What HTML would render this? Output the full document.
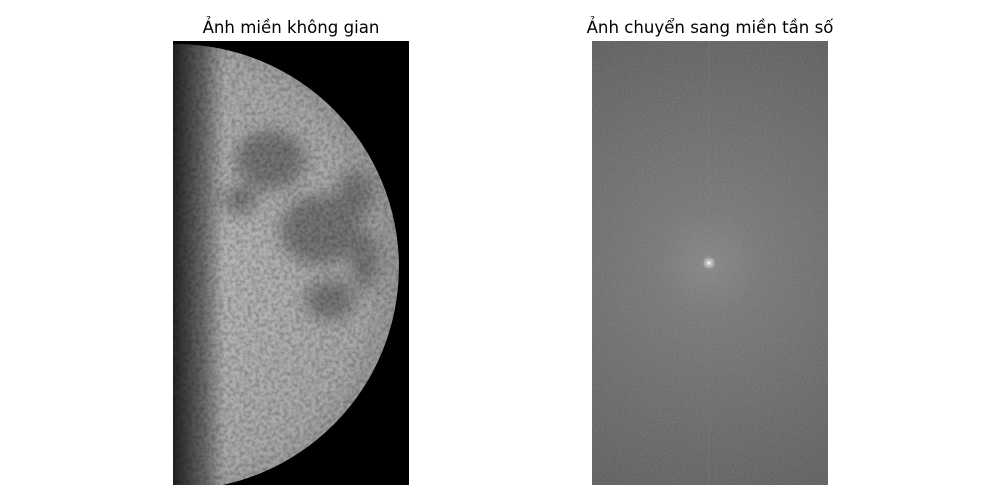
<!DOCTYPE html>
<html><head><meta charset="utf-8"><style>
body{margin:0;background:#fff;width:1000px;height:500px;overflow:hidden;font-family:"DejaVu Sans","Liberation Sans",sans-serif}
</style></head><body>
<svg width="1000" height="500" viewBox="0 0 1000 500">
<defs>
<clipPath id="lc"><rect x="173" y="41" width="236" height="444"/></clipPath>
<clipPath id="mc"><circle cx="176" cy="267" r="223"/></clipPath>
<radialGradient id="moonG" cx="0.45" cy="0.5" r="0.6">
<stop offset="0" stop-color="#bcbcbc"/><stop offset="0.8" stop-color="#a8a8a8"/><stop offset="1" stop-color="#8a8a8a"/>
</radialGradient>
<linearGradient id="shade" x1="173" x2="409" y1="0" y2="0" gradientUnits="userSpaceOnUse">
<stop offset="0" stop-color="#000" stop-opacity="0.8"/><stop offset="0.13" stop-color="#000" stop-opacity="0.4"/><stop offset="0.22" stop-color="#000" stop-opacity="0"/>
</linearGradient>
<filter id="noise" x="0" y="0" width="100%" height="100%">
<feTurbulence type="fractalNoise" baseFrequency="0.25" numOctaves="3" seed="4" result="t"/>
<feColorMatrix in="t" type="matrix" values="0 0 0 0 0  0 0 0 0 0  0 0 0 0 0  -1.6 0 0 0 1.05" result="d"/>
<feComposite in="d" in2="SourceGraphic" operator="in"/>
</filter>
<filter id="fnoise" x="0" y="0" width="100%" height="100%">
<feTurbulence type="fractalNoise" baseFrequency="0.8" numOctaves="1" seed="2"/>
<feColorMatrix type="matrix" values="0 0 0 0 1  0 0 0 0 1  0 0 0 0 1  0 0 0 0.45 -0.1"/>
</filter>
<filter id="blur"><feGaussianBlur stdDeviation="8"/></filter>
<filter id="blur2"><feGaussianBlur stdDeviation="2"/></filter>
<radialGradient id="fftG" cx="709" cy="263" r="260" gradientUnits="userSpaceOnUse">
<stop offset="0" stop-color="#a0a0a0"/><stop offset="0.03" stop-color="#808080"/><stop offset="0.2" stop-color="#747474"/><stop offset="0.6" stop-color="#676767"/><stop offset="1" stop-color="#5a5a5a"/>
</radialGradient>
</defs>
<text x="291" y="33" text-anchor="middle" font-size="16.6" fill="#000">Ảnh miền không gian</text>
<text x="710" y="33" text-anchor="middle" font-size="16.6" fill="#000">Ảnh chuyển sang miền tần số</text>
<g clip-path="url(#lc)">
<rect x="173" y="41" width="236" height="444" fill="#000"/>
<g clip-path="url(#mc)">
<circle cx="176" cy="267" r="223" fill="url(#moonG)"/>
<g filter="url(#blur)" fill="#666" opacity="0.8">
<ellipse cx="270" cy="160" rx="35" ry="30"/>
<ellipse cx="320" cy="230" rx="40" ry="35"/>
<ellipse cx="355" cy="195" rx="18" ry="25"/>
<ellipse cx="330" cy="300" rx="25" ry="20"/>
<ellipse cx="240" cy="200" rx="18" ry="14"/>
<ellipse cx="365" cy="260" rx="14" ry="30"/>
</g>
<rect x="173" y="41" width="236" height="444" fill="#000" filter="url(#noise)" opacity="0.3"/>
<rect x="173" y="41" width="236" height="444" fill="url(#shade)"/>
</g>
</g>
<g>
<rect x="592" y="41" width="236" height="444" fill="url(#fftG)"/>
<rect x="592" y="41" width="236" height="444" fill="#fff" filter="url(#fnoise)" opacity="0.5"/>
<line x1="709" y1="41" x2="709" y2="485" stroke="#888" stroke-width="1" opacity="0.25"/>
<circle cx="709" cy="263" r="4" fill="#d8d8d8" filter="url(#blur2)"/>
<circle cx="709" cy="263" r="1.5" fill="#eee"/>
</g>
</svg>
</body></html>
